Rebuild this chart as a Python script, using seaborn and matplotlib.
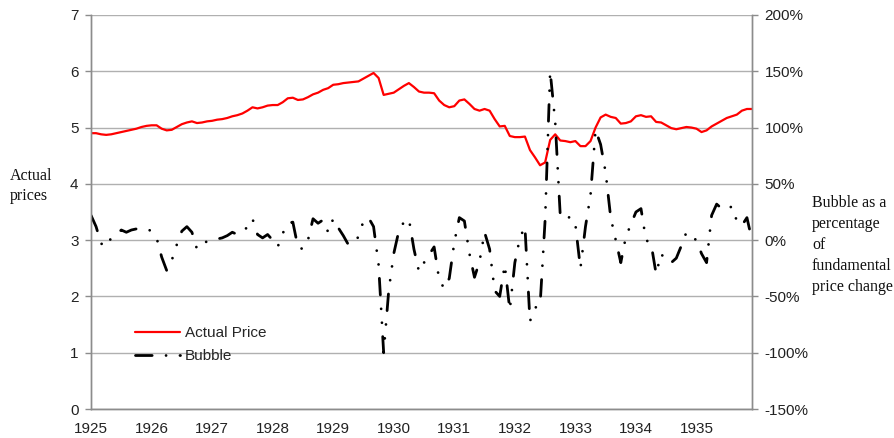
import numpy as np
import pandas as pd
import matplotlib
matplotlib.use("Agg")
import matplotlib.pyplot as plt
from matplotlib.lines import Line2D
import seaborn as sns

# monthly data, Jan 1925 .. Dec 1935
years = list(range(1925, 1936))

actual_price = [
    4.90, 4.90, 4.88, 4.87, 4.88, 4.90, 4.92, 4.94, 4.96, 4.98, 5.01, 5.03,
    5.04, 5.04, 4.98, 4.95, 4.96, 5.01, 5.06, 5.09, 5.11, 5.08, 5.09, 5.11,
    5.12, 5.14, 5.15, 5.17, 5.20, 5.22, 5.25, 5.30, 5.36, 5.34, 5.36, 5.39,
    5.40, 5.40, 5.45, 5.52, 5.53, 5.49, 5.50, 5.54, 5.59, 5.62, 5.67, 5.70,
    5.76, 5.77, 5.79, 5.80, 5.81, 5.82, 5.87, 5.92, 5.97, 5.88, 5.58, 5.60,
    5.62, 5.68, 5.74, 5.79, 5.72, 5.64, 5.62, 5.62, 5.61, 5.48, 5.40, 5.36,
    5.38, 5.48, 5.50, 5.42, 5.33, 5.30, 5.33, 5.30, 5.15, 5.02, 5.03, 4.85,
    4.83, 4.83, 4.84, 4.60, 4.47, 4.33, 4.38, 4.78, 4.88, 4.77, 4.76, 4.74,
    4.76, 4.67, 4.67, 4.76, 5.00, 5.18, 5.23, 5.19, 5.17, 5.07, 5.08, 5.11,
    5.20, 5.22, 5.19, 5.20, 5.10, 5.09, 5.04, 4.99, 4.97, 4.99, 5.01, 5.00,
    4.98, 4.92, 4.95, 5.02, 5.07, 5.12, 5.17, 5.20, 5.23, 5.30, 5.33, 5.33,
]

bubble_pct = [
    22, 12, -3, -6, 2, 5, 9, 7, 9, 10, 10, 10,
    8, 2, -15, -27, -18, -4, 8, 12, 7, -8, -4, -1,
    0, 1, 2, 4, 7, 5, 9, 11, 19, 5, 2, 5,
    0, -6, 6, 15, 16, -6, -8, 0, 19, 15, 18, 7,
    19, 11, 4, -4, -3, 3, 17, 20, 12, -22, -100, -45,
    -12, 8, 16, 19, -8, -28, -20, -13, -6, -35, -43, -34,
    -2, 20, 17, -12, -33, -19, 7, -8, -45, -50, -22, -62,
    -20, 2, 12, -72, -60, -58, 18, 150, 105, 22, 18, 21,
    14, -25, 12, 40, 98, 85, 60, 20, 0, -20, 3, 14,
    25, 28, 0, -3, -30, -12, -19, -20, -16, -5, 7, 3,
    0, -12, -20, 22, 32, 28, 27, 30, 17, 13, 20, 0,
]

df = pd.DataFrame({"month": np.arange(len(actual_price)),
                   "price": actual_price,
                   "bubble": bubble_pct})

sns.set_style("white")
tick_font = ["Liberation Sans", "DejaVu Sans"]
serif_font = ["Liberation Serif", "DejaVu Serif"]
plt.rcParams["font.family"] = tick_font

fig = plt.figure(figsize=(8.95, 4.38), dpi=100)
ax = fig.add_axes([0.1017, 0.0662, 0.7385, 0.8996])
ax2 = ax.twinx()

grey = "#8c8c8c"
bubble_dashes = [6, 5, 0.01, 5, 0.01, 5]

ax.set_ylim(0, 7)
ax.set_yticks(range(0, 8))
ax.yaxis.grid(True, color="#b0b0b0", lw=1.0)
ax.set_axisbelow(True)
ax2.set_ylim(-150, 200)
ax2.set_yticks(range(-150, 201, 50))
ax2.set_yticklabels([f"{v}%" for v in range(-150, 201, 50)])

sns.lineplot(data=df, x="month", y="price", ax=ax, color="#ff0000", lw=1.6)
sns.lineplot(data=df, x="month", y="bubble", ax=ax2, color="black", lw=2.0)
bl = ax2.get_lines()[0]
bl.set_dashes(bubble_dashes)
bl.set_dash_capstyle("round")

ax.set_xlim(0, len(actual_price) - 1)
ax.set_xticks(range(0, len(actual_price), 12))
ax.set_xticklabels([str(y) for y in years])
ax.set_xlabel("")
ax.set_ylabel("")
ax2.set_ylabel("")

for a in (ax, ax2):
    for s in a.spines.values():
        s.set_color(grey)
        s.set_linewidth(1.0)
    a.spines["top"].set_visible(False)
    a.tick_params(axis="y", direction="out", length=4, color=grey, width=1,
                  labelsize=11, labelcolor="#222222", pad=5)
ax.tick_params(axis="x", length=0, labelsize=11, labelcolor="#222222", pad=9)

fig.text(10 / 895, 1 - 186 / 438, "Actual\nprices", family=serif_font,
         fontsize=11.5, ha="left", va="center", linespacing=1.3, color="#111111")
fig.text(812 / 895, 1 - 245 / 438,
         "Bubble as a\npercentage\nof\nfundamental\nprice change",
         family=serif_font, fontsize=11.5, ha="left", va="center",
         linespacing=1.4, color="#111111")

handles = [Line2D([], [], color="#ff0000", lw=1.6),
           Line2D([], [], color="black", lw=2.0, dashes=[6, 5, 0.01, 5],
                  dash_capstyle="round")]
ax.legend(handles, ["Actual Price", "Bubble"], loc="upper left",
          bbox_to_anchor=(0.045, 0.245), frameon=False, fontsize=11,
          handlelength=3.0, handletextpad=0.3, labelspacing=0.6)

fig.savefig("out.png", dpi=100)
